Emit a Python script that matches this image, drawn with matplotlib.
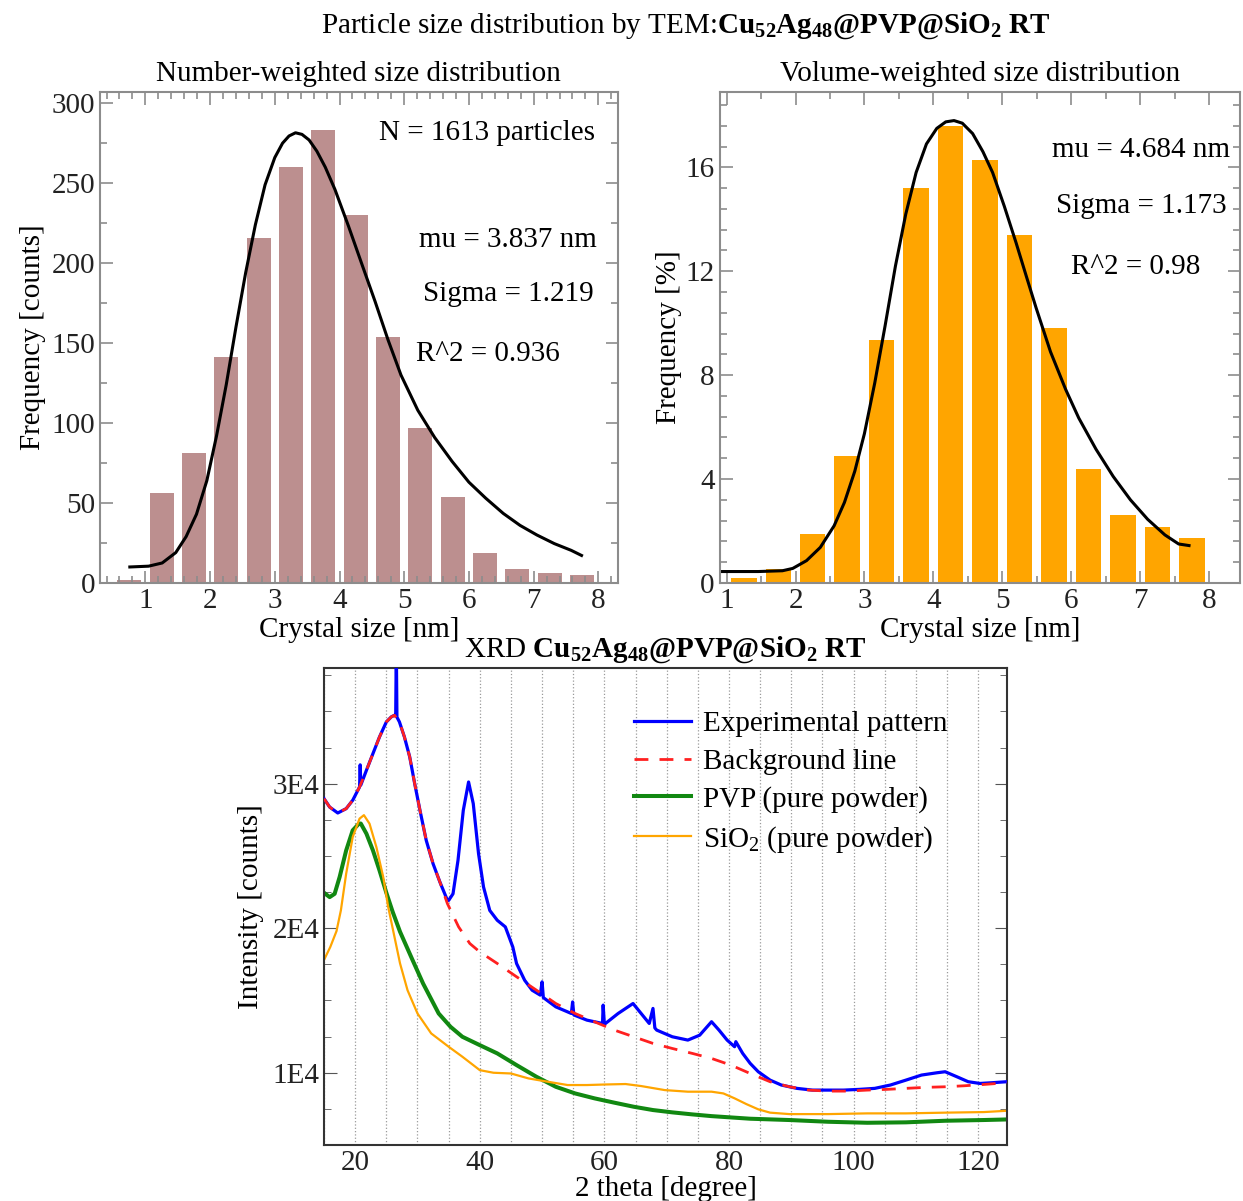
import matplotlib
matplotlib.use('Agg')
import matplotlib.pyplot as plt
from matplotlib.ticker import MultipleLocator, FuncFormatter

plt.rcParams['font.family'] = ['Liberation Serif', 'DejaVu Serif']
plt.rcParams['mathtext.fontset'] = 'custom'
plt.rcParams['mathtext.rm'] = 'Liberation Serif'
plt.rcParams['mathtext.it'] = 'Liberation Serif:italic'
plt.rcParams['mathtext.bf'] = 'Liberation Serif:bold'
plt.rcParams['font.size'] = 21

## --- Data --- ##

# number-weighted histogram (counts)
num_centers = [0.75, 1.25, 1.75, 2.25, 2.75, 3.25, 3.75, 4.25, 4.75, 5.25, 5.75, 6.25, 6.75, 7.25, 7.75]
num_counts = [2, 56, 81, 141, 216, 260, 283, 230, 154, 97, 54, 19, 9, 6, 5]
num_fit_x = [0.76, 1.05, 1.26, 1.47, 1.63, 1.79, 1.95, 2.1, 2.25, 2.4, 2.55, 2.7, 2.85, 3.0, 3.12,
             3.22, 3.32, 3.42, 3.53, 3.65, 3.78, 3.93, 4.14, 4.34, 4.55, 4.75, 4.95, 5.21, 5.47,
             5.74, 6.0, 6.26, 6.53, 6.79, 7.05, 7.32, 7.58, 7.74]
num_fit_y = [10, 10.5, 12.5, 19, 29, 43, 64, 92, 124, 160, 194, 224, 249, 266, 275,
             279.5, 281.5, 280.5, 277, 270, 260, 246, 223, 200, 176, 152, 130, 108, 91,
             76, 63, 53, 43.5, 36, 30, 24.6, 20.4, 17.2]

# volume-weighted histogram (%)
vol_centers = [1.25, 1.75, 2.25, 2.75, 3.25, 3.75, 4.25, 4.75, 5.25, 5.75, 6.25, 6.75, 7.25, 7.75]
vol_freq = [0.18, 0.54, 1.9, 4.9, 9.35, 15.2, 17.6, 16.3, 13.4, 9.8, 4.4, 2.6, 2.15, 1.75]
vol_fit_x = [0.9, 1.46, 1.81, 1.96, 2.16, 2.36, 2.56, 2.71, 2.86, 3.0, 3.15, 3.3, 3.45, 3.6,
             3.75, 3.9, 4.05, 4.18, 4.3, 4.42, 4.57, 4.72, 4.86, 5.03, 5.2, 5.35, 5.49, 5.7,
             5.92, 6.11, 6.36, 6.61, 6.86, 7.11, 7.36, 7.56, 7.71]
vol_fit_y = [0.44, 0.44, 0.47, 0.56, 0.86, 1.37, 2.2, 3.1, 4.3, 5.75, 7.7, 9.9, 12.2, 14.2,
             15.8, 16.9, 17.5, 17.75, 17.8, 17.7, 17.3, 16.6, 15.8, 14.5, 13.1, 11.8, 10.6, 8.9,
             7.45, 6.35, 5.15, 4.1, 3.2, 2.45, 1.85, 1.5, 1.44]

# XRD: experimental pattern
exp_x = [15, 15.9, 17.2, 18.55, 19.6, 20.7, 20.8, 20.9, 21.8, 22.85, 23.9, 25.0, 25.8, 26.3,
         26.5, 26.6, 26.7, 27.1, 27.9, 28.75, 29.55, 30.4, 31.4, 32.5, 33.6, 34.7, 35.0, 35.7,
         36.5, 37.35, 38.2, 38.95, 39.8, 40.6, 41.6, 42.8, 44.1, 45.3, 45.9, 47.2, 48.4, 49.7,
         50.0, 50.2, 52.2, 54.7, 54.9, 55.1, 57.2, 59.7, 59.8, 60.0, 62.2, 64.6, 65.9, 67.2,
         67.8, 68.1, 68.4, 70.9, 73.4, 75.3, 77.2, 78.4, 79.7, 80.9, 81.1, 82.2, 83.4, 84.7,
         86.6, 88.4, 90.9, 93.4, 95.9, 98.4, 100.9, 103.4, 105.9, 108.4, 110.9, 113.4, 114.7,
         116.6, 118.4, 120.3, 122.2, 124.6]
exp_y = [28960, 28380, 27970, 28270, 28850, 29770, 31300, 29900, 30920, 32080, 33230, 34270, 34620, 34730,
         34700, 39500, 34600, 34270, 33230, 31850, 30000, 28150, 26080, 24460, 23190, 22040, 21920, 22380,
         24690, 28150, 30115, 28620, 25150, 22850, 21230, 20550, 20090, 18700, 17560, 16400, 15710, 15370,
         16290, 15200, 14560, 14100, 14900, 14000, 13640, 13410, 14680, 13350, 14100, 14790, 14100, 13410,
         14450, 13100, 12950, 12490, 12260, 12600, 13530, 12950, 12260, 11800, 12150, 11340, 10650, 10070,
         9490, 9150, 8920, 8800, 8800, 8800, 8850, 8920, 9150, 9490, 9840, 10000, 10070,
         9720, 9380, 9260, 9310, 9380]

# XRD: background line
bg_x = [15, 15.9, 17.2, 18.55, 19.6, 20.7, 21.8, 22.85, 23.9, 25.0, 25.8, 26.3, 27.1, 27.9,
        28.75, 29.55, 30.4, 31.4, 32.5, 33.6, 34.8, 36.6, 38.4, 40, 42.8, 45.9, 49.1, 52.2,
        55.3, 58.4, 61.6, 64.7, 67.8, 70.9, 74.1, 77.2, 80.3, 83.4, 86.6, 89.7, 92.8, 95.9,
        99.1, 102.2, 105.3, 108.4, 111.6, 114.7, 117.8, 120.9, 124.6]
bg_y = [28960, 28380, 27970, 28270, 28850, 29770, 30920, 32080, 33230, 34270, 34620, 34730, 34270, 33230,
        31850, 30000, 28150, 26080, 24460, 23190, 21700, 20090, 18940, 18360, 17560, 16640, 15710, 14790,
        14100, 13530, 12950, 12490, 12030, 11680, 11340, 10990, 10530, 9950, 9380, 9030, 8800, 8730,
        8730, 8800, 8850, 8920, 8990, 9030, 9100, 9190, 9310]

# XRD: PVP pure powder
pvp_x = [15, 15.9, 16.7, 17.5, 18.55, 19.6, 20.6, 20.9, 21.8, 22.85, 23.9, 25.0, 26.0, 27.2, 29.1,
         30.9, 33.4, 35.3, 37.2, 40, 42.8, 45.9, 49.1, 52.2, 55.3, 58.4, 61.6, 64.7, 67.8, 70.9,
         74.1, 77.2, 80.3, 83.4, 89.7, 95.9, 102.2, 108.4, 114.7, 120.9, 124.6]
pvp_y = [22450, 22150, 22380, 23540, 25380, 26770, 27230, 27240, 26540, 25380, 24000, 22450, 21150, 19750, 17900,
         16170, 14100, 13180, 12490, 11910, 11340, 10530, 9720, 9030, 8570, 8230, 7930, 7650, 7420, 7260,
         7120, 7000, 6910, 6820, 6730, 6610, 6540, 6570, 6680, 6730, 6770]

# XRD: SiO2 pure powder
sio2_x = [15, 16, 17, 17.7, 18.55, 19.6, 20.7, 21.4, 22.3, 23.4, 24.5, 25.3, 27.2, 28.4, 30, 32.2,
          35, 37.2, 40, 42.2, 45, 47.8, 50.9, 54.1, 57.2, 60.3, 63.4, 65.9, 69.7, 73.4, 77.2,
          79.1, 80.9, 82.8, 84.7, 86.6, 89.7, 95.9, 102.2, 108.4, 114.7, 120.9, 124.6]
sio2_y = [17810, 18700, 19800, 21230, 23770, 26310, 27580, 27820, 27230, 25610, 23540, 21460, 17560, 15710, 14100, 12720,
          11800, 11110, 10180, 10000, 9950, 9610, 9380, 9150, 9150, 9190, 9220, 9080, 8800, 8690, 8690,
          8570, 8230, 7830, 7470, 7240, 7140, 7140, 7190, 7190, 7240, 7280, 7370]

compound = r'$\mathbf{Cu_{52}Ag_{48}@PVP@SiO_2\ RT}$'

## --- Figure --- ##

fig = plt.figure(figsize=(12.43, 12.01), dpi=100)

ax1 = fig.add_axes([0.0805, 0.5146, 0.4165, 0.4088])
ax2 = fig.add_axes([0.579, 0.5146, 0.4186, 0.4088])
ax3 = fig.add_axes([0.2607, 0.0466, 0.5493, 0.3972])


def style_hist_axes(ax):
    for sp in ax.spines.values():
        sp.set_color('#8c8c8c')
        sp.set_linewidth(1.5)
    ax.tick_params(which='both', direction='in', top=True, right=True, colors='#8c8c8c',
                   labelcolor='#222222', width=1.2)
    ax.tick_params(which='major', length=9)
    ax.tick_params(which='minor', length=5)


# Number-weighted
ax1.bar(num_centers, num_counts, width=0.37, color='#bc8f8f')
ax1.plot(num_fit_x, num_fit_y, color='black', lw=2.2)
ax1.set_xlim(0.3, 8.3)
ax1.set_ylim(0, 307)
ax1.xaxis.set_major_locator(MultipleLocator(1))
ax1.xaxis.set_minor_locator(MultipleLocator(0.2))
ax1.yaxis.set_major_locator(MultipleLocator(50))
ax1.yaxis.set_minor_locator(MultipleLocator(25))
style_hist_axes(ax1)
ax1.set_xlabel('Crystal size [nm]', labelpad=2)
ax1.set_ylabel('Frequency [counts]', labelpad=4)
ax1.set_title('Number-weighted size distribution', fontsize=21, pad=8)
ax1.text(0.747, 0.916, 'N = 1613 particles', transform=ax1.transAxes, ha='center', va='center')
ax1.text(0.788, 0.699, 'mu = 3.837 nm', transform=ax1.transAxes, ha='center', va='center')
ax1.text(0.788, 0.589, 'Sigma = 1.219', transform=ax1.transAxes, ha='center', va='center')
ax1.text(0.75, 0.466, 'R^2 = 0.936', transform=ax1.transAxes, ha='center', va='center')

# Volume-weighted
ax2.bar(vol_centers, vol_freq, width=0.37, color='#ffa500')
ax2.plot(vol_fit_x, vol_fit_y, color='black', lw=2.2)
ax2.set_xlim(0.9, 8.45)
ax2.set_ylim(0, 18.9)
ax2.xaxis.set_major_locator(MultipleLocator(1))
ax2.xaxis.set_minor_locator(MultipleLocator(0.5))
ax2.yaxis.set_major_locator(MultipleLocator(4))
ax2.yaxis.set_minor_locator(MultipleLocator(0.8))
style_hist_axes(ax2)
ax2.set_xlabel('Crystal size [nm]', labelpad=2)
ax2.set_ylabel('Frequency [%]', labelpad=3)
ax2.set_title('Volume-weighted size distribution', fontsize=21, pad=8)
ax2.text(0.81, 0.882, 'mu = 4.684 nm', transform=ax2.transAxes, ha='center', va='center')
ax2.text(0.81, 0.768, 'Sigma = 1.173', transform=ax2.transAxes, ha='center', va='center')
ax2.text(0.80, 0.644, 'R^2 = 0.98', transform=ax2.transAxes, ha='center', va='center')

# XRD
ax3.plot(exp_x, exp_y, color='#0000ff', lw=2.3, label='Experimental pattern', zorder=3)
ax3.plot(bg_x, bg_y, color='#ff2020', lw=2.0, ls=(0, (5, 4)), label='Background line', zorder=4)
ax3.plot(pvp_x, pvp_y, color='#118811', lw=2.9, label='PVP (pure powder)', zorder=2)
ax3.plot(sio2_x, sio2_y, color='#ffa500', lw=1.6, label=r'SiO$_2$ (pure powder)', zorder=2)
ax3.set_xlim(15, 124.6)
ax3.set_ylim(5000, 38000)
ax3.xaxis.set_major_locator(MultipleLocator(20))
ax3.xaxis.set_minor_locator(MultipleLocator(5))
ax3.yaxis.set_major_locator(MultipleLocator(10000))
ax3.yaxis.set_minor_locator(MultipleLocator(2500))
ax3.yaxis.set_major_formatter(FuncFormatter(lambda v, p: f'{int(round(v / 1e4))}E4'))
ax3.grid(axis='x', which='both', color='#9a9a9a', ls=':', lw=0.9)
for sp in ax3.spines.values():
    sp.set_color('#333333')
    sp.set_linewidth(1.5)
ax3.tick_params(which='both', direction='in', right=True, top=False, colors='#555555',
                labelcolor='#222222')
ax3.tick_params(axis='y', which='major', length=9)
ax3.tick_params(axis='y', which='minor', length=5)
ax3.tick_params(axis='x', which='both', length=0)
ax3.set_xlabel('2 theta [degree]', labelpad=0)
ax3.set_ylabel('Intensity [counts]', labelpad=6)
ax3.set_title('XRD ' + compound, fontsize=21, pad=8)
ax3.legend(loc='upper left', bbox_to_anchor=(0.415, 0.965), frameon=False, handlelength=1.95,
           labelspacing=0.38, handletextpad=0.42, fontsize=21)

fig.text(0.552, 0.979, 'Particle size distribution by TEM:' + compound, ha='center', va='center',
         fontsize=21)

fig.savefig('out.png', dpi=100)
